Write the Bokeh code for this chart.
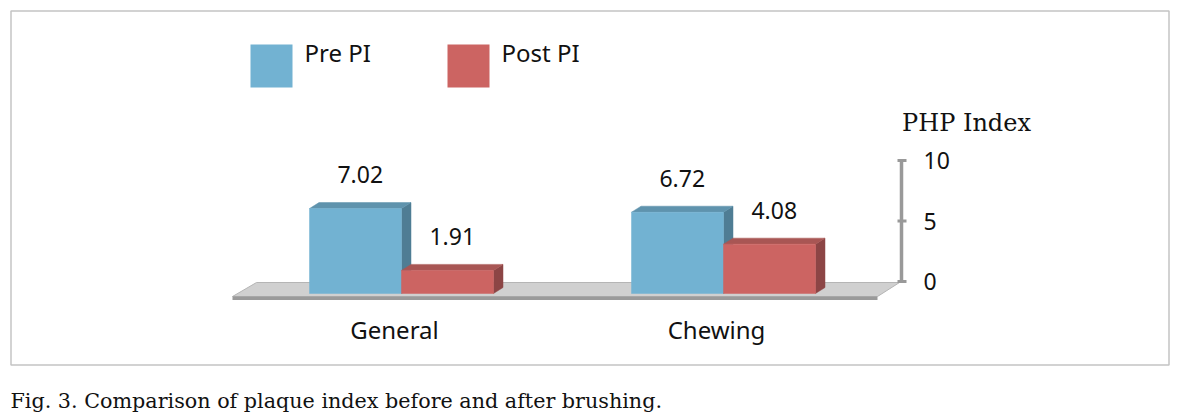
from bokeh.plotting import figure
from bokeh.models import Range1d
from bokeh.core.properties import value
from bokeh.embed import file_html
from bokeh.resources import INLINE

# ---- data ----
categories = ["General", "Chewing"]
pre_pi = [7.02, 6.72]
post_pi = [1.91, 4.08]
series_names = ["Pre PI", "Post PI"]
axis_ticks = [0, 5, 10]
axis_title = "PHP Index"
caption = "Fig. 3. Comparison of plaque index before and after brushing."

# ---- styles ----
SANS = "Noto Sans"
SERIF = "DejaVu Serif"
FRONT = ["#72B2D2", "#CC6462"]
TOP = ["#5F93AD", "#A85654"]
SIDE = ["#4F7D94", "#8C4545"]

W, H = 1173, 416
OFF = 0         # page offset of the canvas
Y0 = 293.0      # page y of value 0 on the front plane
S = 12.1        # pixels per index unit


def vy(page_y):
    return (Y0 - page_y) / S


p = figure(width=W, height=H, output_backend="svg", toolbar_location=None,
           x_range=Range1d(OFF, OFF + W), y_range=Range1d(vy(OFF + H), vy(OFF)),
           min_border=0, x_axis_location=None, y_axis_location=None,
           outline_line_color=None)
p.grid.visible = False
p.background_fill_color = "white"
p.border_fill_color = "white"

# chart box border
p.quad(left=[10.5], right=[1168.5], top=[vy(10.5)], bottom=[vy(364.5)],
       fill_color=None, line_color="#C4C4C4", line_width=1.5)

# floor
fl_front, fl_back = vy(296), vy(282)
p.patch([232, 877, 899, 256], [fl_front, fl_front, fl_back, fl_back],
        fill_color="#D0D0D0", line_color="#B5B5B5", line_width=1)
p.quad(left=[232], right=[877], top=[vy(296)], bottom=[vy(299.5)],
       fill_color="#9A9A9A", line_color=None)

# 3D bars
group_x = [401, 723]
BW = 92
DX = 9.5
DY = 6 / S
series = [pre_pi, post_pi]
for s, vals in enumerate(series):
    lefts = [g - BW + s * BW for g in group_x]
    rights = [l + BW for l in lefts]
    xs_side = [[r, r + DX, r + DX, r] for r in rights]
    ys_side = [[0, DY, v + DY, v] for v in vals]
    p.patches(xs_side, ys_side, fill_color=SIDE[s], line_color=SIDE[s], line_width=0.5)
    xs_top = [[l, r, r + DX, l + DX] for l, r in zip(lefts, rights)]
    ys_top = [[v, v, v + DY, v + DY] for v in vals]
    p.patches(xs_top, ys_top, fill_color=TOP[s], line_color=TOP[s], line_width=0.5)
    p.quad(left=lefts, right=rights, top=vals, bottom=[0] * len(vals),
           fill_color=FRONT[s], line_color=FRONT[s], line_width=0.5)
    p.text(x=[(l + r) / 2 + DX / 2 for l, r in zip(lefts, rights)],
           y=[v + 34 / S for v in vals],
           text=[f"{v:.2f}" for v in vals],
           text_font=value(SANS), text_font_size=value("23px"),
           text_align="center", text_baseline="middle", text_color="#111111")

# category labels
p.text(x=[g - 7 for g in group_x], y=[vy(329)] * len(categories), text=categories,
       text_font=value(SANS), text_font_size=value("24px"),
       text_align="center", text_baseline="middle", text_color="#111111")

# value axis on the back plane
AX = 901
A0 = vy(281)
p.segment(x0=[AX], y0=[A0 + axis_ticks[0]], x1=[AX], y1=[A0 + axis_ticks[-1]],
          line_color="#999999", line_width=3.5)
p.segment(x0=[AX - 4] * len(axis_ticks), y0=[A0 + t for t in axis_ticks],
          x1=[AX + 5] * len(axis_ticks), y1=[A0 + t for t in axis_ticks],
          line_color="#999999", line_width=3)
p.text(x=[923] * len(axis_ticks), y=[A0 + t for t in axis_ticks],
       text=[str(t) for t in axis_ticks],
       text_font=value(SANS), text_font_size=value("23px"),
       text_align="left", text_baseline="middle", text_color="#111111")
p.text(x=[966], y=[vy(122)], text=[axis_title],
       text_font=value(SERIF), text_font_size=value("24px"),
       text_align="center", text_baseline="middle", text_color="#111111")

# legend
leg_x = [250, 447]
p.quad(left=leg_x, right=[x + 42 for x in leg_x], top=[vy(44)] * 2, bottom=[vy(87)] * 2,
       fill_color=FRONT, line_color=None)
p.text(x=[x + 54 for x in leg_x], y=[vy(52)] * 2, text=series_names,
       text_font=value(SANS), text_font_size=value("24px"),
       text_align="left", text_baseline="middle", text_color="#111111")

# caption
p.text(x=[10], y=[vy(400)], text=[caption],
       text_font=value(SERIF), text_font_size=value("20.7px"),
       text_align="left", text_baseline="middle", text_color="#111111")

open("out.html", "w").write(file_html(p, INLINE))
